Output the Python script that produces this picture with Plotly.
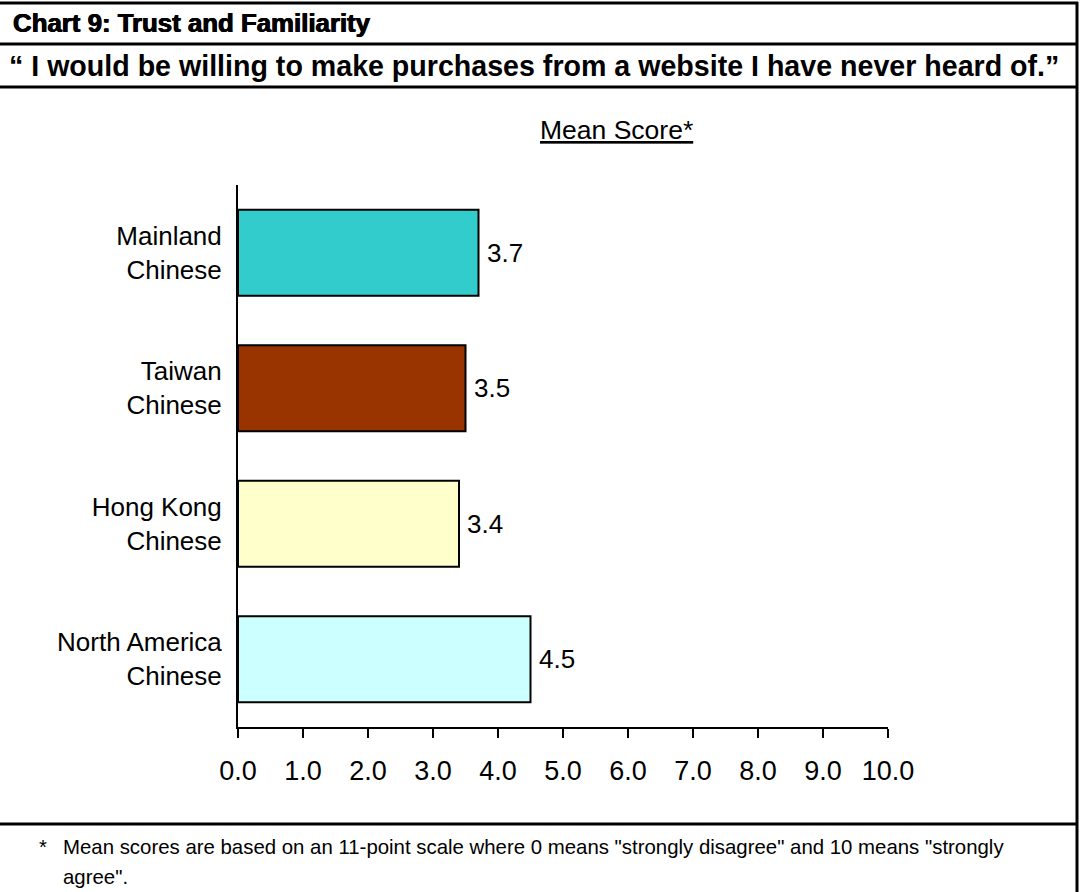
import plotly.graph_objects as go

# Survey groups (top to bottom) and their mean scores on the 0-10 scale
groups = ["Mainland<br>Chinese", "Taiwan<br>Chinese", "Hong Kong<br>Chinese", "North America<br>Chinese"]
mean_scores = [3.7, 3.5, 3.4, 4.5]
bar_colors = ["#33CCCC", "#993300", "#FFFFCC", "#CCFFFF"]
x_ticks = [0, 1, 2, 3, 4, 5, 6, 7, 8, 9, 10]

title_text = "Chart 9: Trust and Familiarity"
question_text = "\u201c I would be willing to make purchases from a website I have never heard of.\u201d"
axis_caption = "<u>Mean Score*</u>"
note_line1 = 'Mean scores are based on an 11-point scale where 0 means "strongly disagree" and 10 means "strongly'
note_line2 = 'agree".'

W, H = 1080, 892
L, R, T, B = 238, 888, 185, 727  # plot area in pixels


def px(x):
    return (x - L) / (R - L)


def py(y):
    return (B - y) / (B - T)


FONT = "Liberation Sans, Arial, sans-serif"

fig = go.Figure(
    go.Bar(
        x=mean_scores,
        y=groups,
        orientation="h",
        width=0.635,
        marker=dict(color=bar_colors, line=dict(color="black", width=2)),
        hoverinfo="skip",
    )
)

annotations = []
# value labels to the right of each bar
for g, v in zip(groups, mean_scores):
    annotations.append(dict(
        x=v, y=g, xref="x", yref="y", text=f"{v:.1f}", showarrow=False,
        xanchor="left", yanchor="middle", xshift=6,
        font=dict(family=FONT, size=26, color="black"),
    ))

# header rows
annotations.append(dict(
    x=px(11), y=py(23), xref="paper", yref="paper", text=f"<b>{title_text}</b>",
    showarrow=False, xanchor="left", yanchor="middle",
    font=dict(family=FONT, size=25.8, color="black",
              shadow="0.6px 0px 0px black, -0.4px 0px 0px black"),
))
annotations.append(dict(
    x=px(7), y=py(66), xref="paper", yref="paper", text=f"<b>{question_text}</b>",
    showarrow=False, xanchor="left", yanchor="middle",
    font=dict(family=FONT, size=28.6, color="black"),
))
annotations.append(dict(
    x=px(616), y=py(130), xref="paper", yref="paper", text=axis_caption,
    showarrow=False, xanchor="center", yanchor="middle",
    font=dict(family=FONT, size=26.5, color="black"),
))

# footnote
annotations.append(dict(
    x=px(37), y=py(847), xref="paper", yref="paper", text="*",
    showarrow=False, xanchor="left", yanchor="middle",
    font=dict(family=FONT, size=20.4, color="black"),
))
annotations.append(dict(
    x=px(61), y=py(847), xref="paper", yref="paper", text=note_line1,
    showarrow=False, xanchor="left", yanchor="middle",
    font=dict(family=FONT, size=20.4, color="black"),
))
annotations.append(dict(
    x=px(61), y=py(877), xref="paper", yref="paper", text=note_line2,
    showarrow=False, xanchor="left", yanchor="middle",
    font=dict(family=FONT, size=20.4, color="black"),
))

frame = dict(color="black", width=3)
shapes = [
    dict(type="line", xref="paper", yref="paper", x0=px(0), x1=px(1078), y0=py(3), y1=py(3), line=frame),
    dict(type="line", xref="paper", yref="paper", x0=px(0), x1=px(1078), y0=py(44), y1=py(44), line=frame),
    dict(type="line", xref="paper", yref="paper", x0=px(0), x1=px(1078), y0=py(87), y1=py(87), line=frame),
    dict(type="line", xref="paper", yref="paper", x0=px(0), x1=px(1078), y0=py(824), y1=py(824), line=frame),
    dict(type="line", xref="paper", yref="paper", x0=px(1077), x1=px(1077), y0=py(2), y1=py(900), line=frame),
]

fig.update_layout(
    width=W, height=H,
    margin=dict(l=L, r=W - R, t=T, b=H - B, pad=0),
    paper_bgcolor="white", plot_bgcolor="white",
    showlegend=False,
    annotations=annotations,
    shapes=shapes,
    font=dict(family=FONT, color="black"),
    xaxis=dict(
        range=[0, 10], tickvals=x_ticks, tickformat=".1f",
        showgrid=False, zeroline=False,
        showline=True, linecolor="black", linewidth=2,
        ticks="outside", ticklen=9, tickwidth=2, tickcolor="black",
        ticklabelstandoff=10,
        tickfont=dict(family=FONT, size=27, color="black"),
        automargin=False, fixedrange=True,
    ),
    yaxis=dict(
        type="category", categoryarray=groups, range=[3.5, -0.5],
        showgrid=False, zeroline=False,
        showline=True, linecolor="black", linewidth=2,
        ticks="", ticklabelstandoff=9,
        tickfont=dict(family=FONT, size=26, color="black"),
        automargin=False, fixedrange=True,
    ),
)

fig.write_html("out.html", config={"displayModeBar": False})
